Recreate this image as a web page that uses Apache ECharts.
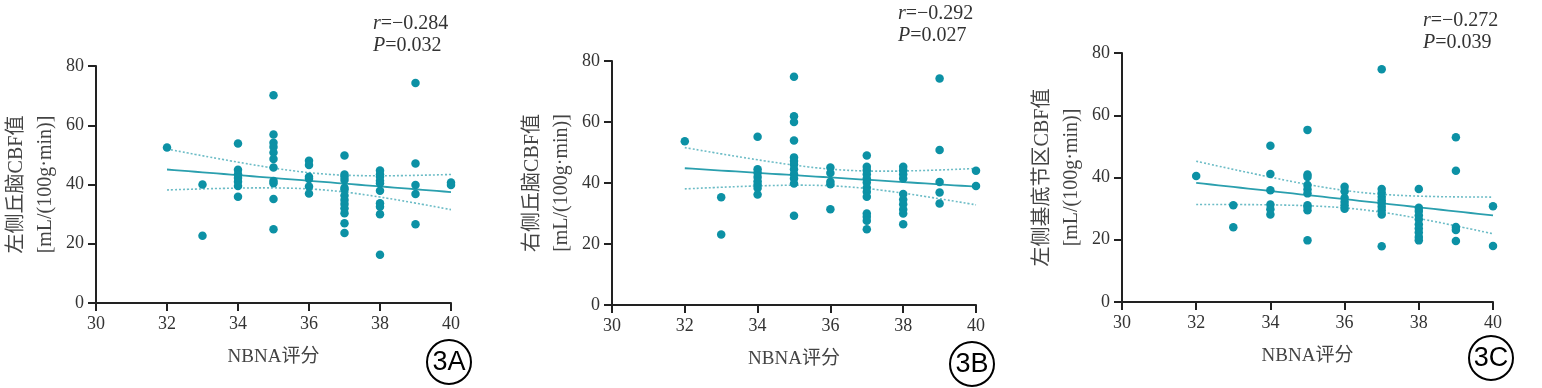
<!DOCTYPE html>
<html>
<head>
<meta charset="utf-8">
<script src="https://cdn.jsdelivr.net/npm/echarts@6/dist/echarts.min.js"></script>
<style>
html,body{margin:0;padding:0;background:#fff;}
#chart{width:1542px;height:388px;}
</style>
</head>
<body>
<div id="chart"></div>
<script>
// ---- data ----
const scoreGroups = [32, 33, 34, 35, 36, 37, 38, 39, 40];
const cbfA = [
  [52.5],
  [40, 22.7],
  [53.8, 45, 43.5, 42.2, 40.9, 39.5, 35.9],
  [70.1, 56.9, 54.1, 52.7, 50.8, 48.6, 45.7, 41.2, 40.4, 35.1, 24.9],
  [48, 46.6, 42.6, 41.9, 39.3, 37],
  [49.8, 43.4, 42.6, 41.5, 38.9, 38.2, 36.3, 34.8, 33.4, 32, 30.3, 26.9, 23.6],
  [44.7, 43.5, 42.6, 41.3, 40.4, 37.9, 33.7, 32.5, 30, 16.3],
  [74.3, 47.1, 39.8, 36.8, 26.6],
  [40.7, 39.8]
];
const cbfB = [
  [53.7],
  [35.3, 23.1],
  [55.2, 44.5, 43.4, 42, 40.6, 39.5, 38.4, 36.2],
  [74.8, 61.9, 60, 53.9, 48.4, 47.2, 46.1, 44.5, 42.9, 41.5, 39.8, 29.3],
  [45.1, 43.3, 40.4, 39.6, 31.4],
  [49, 45.3, 44.2, 42.9, 41.5, 40.2, 38.5, 37.1, 35.5, 30, 28.9, 27.6, 24.8],
  [45.3, 44.2, 42.9, 41.5, 36.4, 34.6, 33, 31.3, 30, 26.5],
  [74.3, 50.8, 40.3, 36.9, 33.3],
  [44, 39]
];
const cbfC = [
  [40.5],
  [31.1, 24],
  [50.2, 41.1, 35.9, 31.3, 29.8, 28.1],
  [55.3, 41, 40.2, 37.6, 36.2, 34.9, 31.1, 30.6, 29.5, 19.8],
  [37, 35.6, 33.5, 32.2, 31.1, 30],
  [74.8, 36.3, 35.1, 33.8, 32.7, 31.7, 30.6, 29.5, 28.1, 17.9],
  [36.3, 30.3, 29.2, 27.9, 26.6, 25, 23.6, 22.3, 20.9, 19.8],
  [52.9, 42.2, 24.1, 23.1, 19.6],
  [30.8, 18]
];
const statsText = [['−0.284', '0.032'], ['−0.292', '0.027'], ['−0.272', '0.039']];
const yTitles = ['左侧丘脑CBF值', '右侧丘脑CBF值', '左侧基底节区CBF值'];
const yUnit = '[mL/(100g·min)]';
const xTitle = 'NBNA评分';
const panelTags = ['3A', '3B', '3C'];

// ---- helpers ----
function flatten(groups) {
  const pts = [];
  groups.forEach((g, i) => g.forEach(v => pts.push([scoreGroups[i], v])));
  return pts;
}
function regression(pts) {
  const n = pts.length;
  const mx = pts.reduce((s, p) => s + p[0], 0) / n;
  const my = pts.reduce((s, p) => s + p[1], 0) / n;
  let sxx = 0, sxy = 0;
  pts.forEach(p => { sxx += (p[0] - mx) ** 2; sxy += (p[0] - mx) * (p[1] - my); });
  const b = sxy / sxx, a = my - b * mx;
  let sse = 0;
  pts.forEach(p => { sse += (p[1] - a - b * p[0]) ** 2; });
  const s = Math.sqrt(sse / (n - 2));
  const t = 2.004;
  const line = [], up = [], lo = [];
  for (let k = 0; k <= 40; k++) {
    const x = 32 + k * 0.2;
    const y = a + b * x;
    const h = t * s * Math.sqrt(1 / n + (x - mx) ** 2 / sxx);
    line.push([x, y]); up.push([x, y + h]); lo.push([x, y - h]);
  }
  return {line, up, lo};
}

const datasets = [cbfA, cbfB, cbfC];
const grids = [
  {left: 96, top: 66, width: 355, height: 237, outerBoundsMode: 'none', containLabel: false},
  {left: 612, top: 61, width: 364, height: 244, outerBoundsMode: 'none', containLabel: false},
  {left: 1122, top: 53, width: 371, height: 249, outerBoundsMode: 'none', containLabel: false}
];
const dotColor = '#0c91a5';
const serif = '"Liberation Serif", "Noto Sans CJK SC", serif';

const xAxes = [], yAxes = [], series = [];
datasets.forEach((d, i) => {
  xAxes.push({
    gridIndex: i, type: 'value', min: 30, max: 40, interval: 2,
    name: xTitle, nameLocation: 'middle', nameGap: 45,
    nameTextStyle: {fontFamily: serif, fontSize: 19, color: '#444'},
    axisLine: {lineStyle: {color: '#222', width: 2}},
    axisTick: {length: 8, lineStyle: {color: '#222', width: 2}},
    axisLabel: {fontFamily: serif, fontSize: 18, color: '#333', margin: 12},
    splitLine: {show: false}
  });
  yAxes.push({
    gridIndex: i, type: 'value', min: 0, max: 80, interval: 20,
    name: yTitles[i] + '\n' + yUnit, nameLocation: 'middle', nameGap: 36, nameRotate: 90,
    nameTextStyle: {fontFamily: serif, fontSize: 20, color: '#444', lineHeight: 29},
    axisLine: {show: true, lineStyle: {color: '#222', width: 2}},
    axisTick: {show: true, length: 8, lineStyle: {color: '#222', width: 2}},
    axisLabel: {fontFamily: serif, fontSize: 18, color: '#333', margin: 12},
    splitLine: {show: false}
  });
  const pts = flatten(d);
  const r = regression(pts);
  series.push({type: 'scatter', xAxisIndex: i, yAxisIndex: i, data: pts, symbolSize: 8.5,
    itemStyle: {color: dotColor, opacity: 1}, z: 3});
  series.push({type: 'line', xAxisIndex: i, yAxisIndex: i, data: r.line, showSymbol: false,
    lineStyle: {color: '#2a9fae', width: 1.8}, z: 2});
  series.push({type: 'line', xAxisIndex: i, yAxisIndex: i, data: r.up, showSymbol: false, smooth: true,
    lineStyle: {color: '#6cbcc6', width: 1.6, type: [2, 2]}, z: 2});
  series.push({type: 'line', xAxisIndex: i, yAxisIndex: i, data: r.lo, showSymbol: false, smooth: true,
    lineStyle: {color: '#6cbcc6', width: 1.6, type: [2, 2]}, z: 2});
});

const statPos = [[373, 13], [898, 3], [1423, 10]];
const tagPos = [[449, 362], [972, 364], [1491, 358]];
const graphic = [];
statsText.forEach((s, i) => {
  graphic.push({type: 'text', left: statPos[i][0], top: statPos[i][1],
    style: {text: '{i|r}=' + s[0] + '\n{i|P}=' + s[1], fontFamily: serif, fontSize: 20, fill: '#333', lineHeight: 22,
      rich: {i: {fontStyle: 'italic', fontFamily: serif, fontSize: 20, fill: '#333'}}}});
  graphic.push({type: 'circle', shape: {cx: tagPos[i][0], cy: tagPos[i][1], r: 22},
    style: {fill: '#fff', stroke: '#000', lineWidth: 2}});
  graphic.push({type: 'text', x: tagPos[i][0], y: tagPos[i][1] + 1,
    style: {text: panelTags[i], fontFamily: '"Liberation Sans", Arial, sans-serif', fontSize: 27,
      fill: '#000', align: 'center', verticalAlign: 'middle'}});
});

const chart = echarts.init(document.getElementById('chart'), null, {renderer: 'canvas'});
chart.setOption({
  animation: false,
  grid: grids,
  xAxis: xAxes,
  yAxis: yAxes,
  series: series,
  graphic: graphic
});
</script>
</body>
</html>
